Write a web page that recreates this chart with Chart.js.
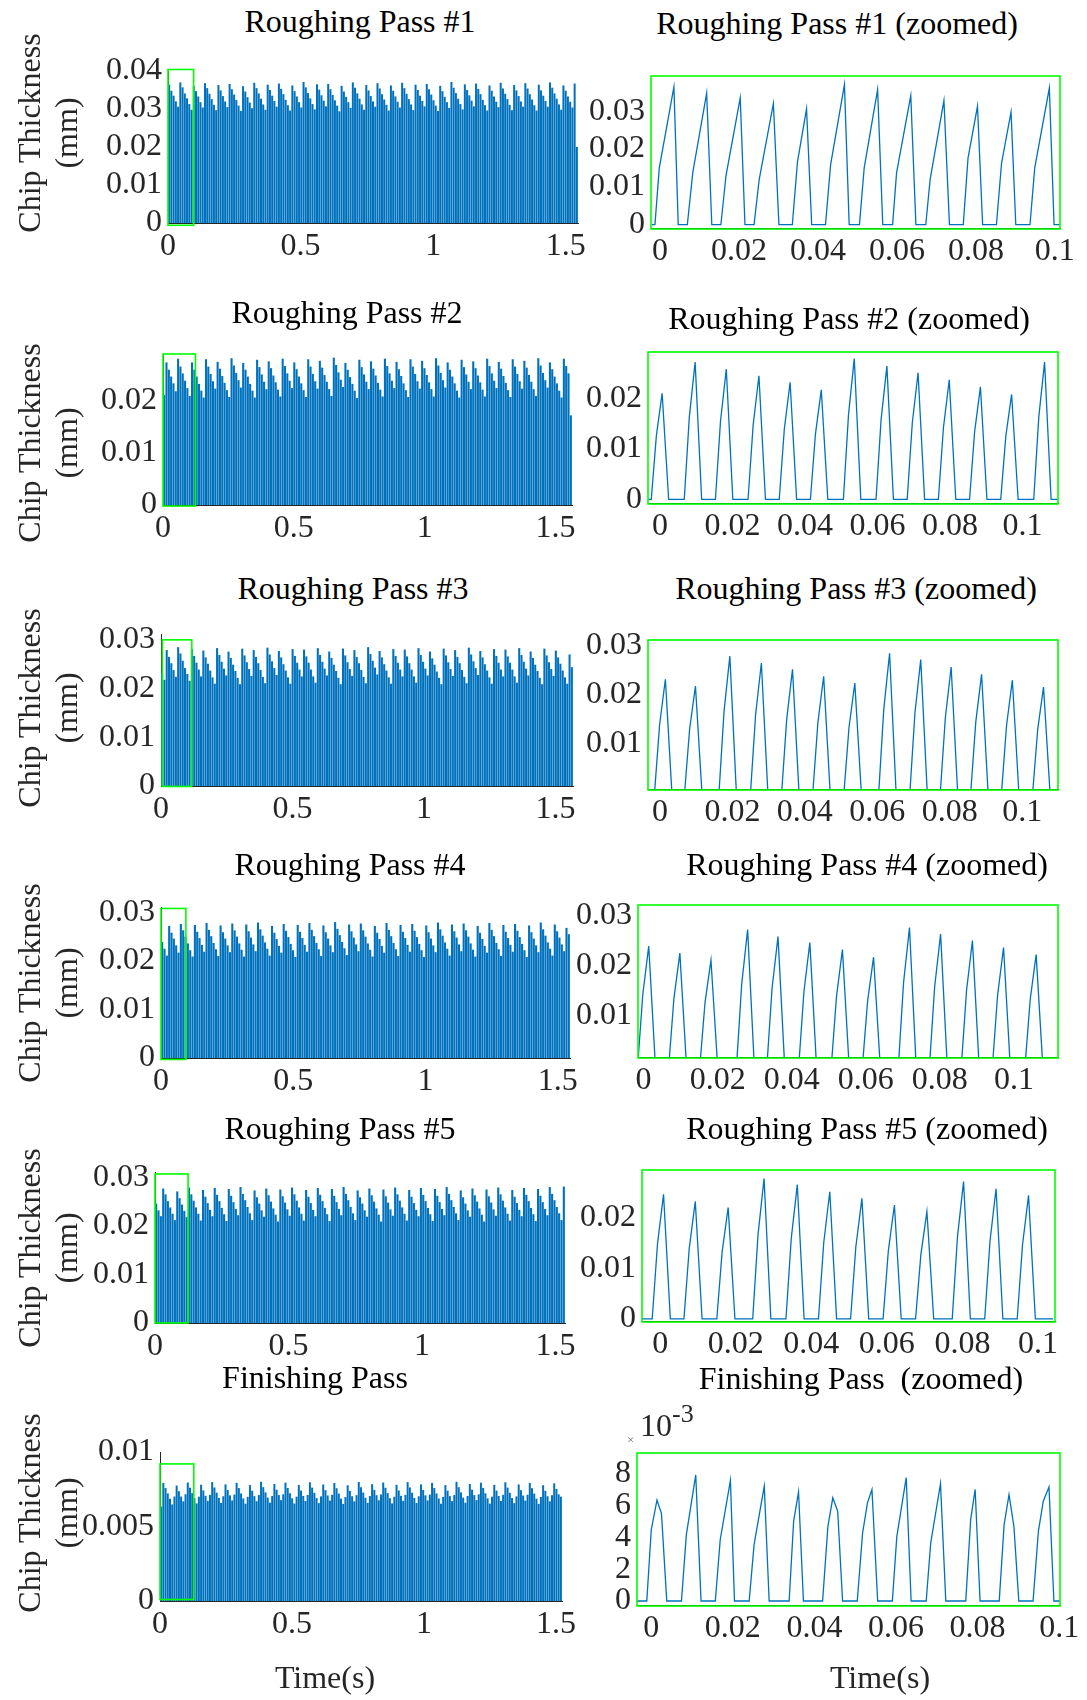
<!DOCTYPE html>
<html>
<head>
<meta charset="utf-8">
<script src="https://cdn.jsdelivr.net/npm/chart.js@4.4.1/dist/chart.umd.min.js"></script>
<style>
  html, body { margin: 0; padding: 0; background: #fff; }
  #fig { position: relative; width: 1087px; height: 1700px; overflow: hidden;
         font-family: 'Liberation Serif', 'Times New Roman', serif; }
  #fig canvas { position: absolute; }
  .ttl { position: absolute; font-size: 32px; line-height: 1; white-space: pre; color: #000;
         transform: translate(-50%, -50%); }
  .ylab { position: absolute; font-size: 32px; line-height: 37px; text-align: center; white-space: pre;
          color: #262626; transform: translate(-50%, -50%) rotate(-90deg); }
  .xlab { position: absolute; font-size: 32px; line-height: 1; color: #262626; transform: translate(-50%, -50%); }
</style>
</head>
<body>
<div id="fig"></div>
<script>
// ---- tick labels ----
const xTicksFull = [0, 0.5, 1, 1.5];
const xTicksZoom = [0, 0.02, 0.04, 0.06, 0.08, 0.1];
const yTicksP1 = [0, 0.01, 0.02, 0.03, 0.04];
const yTicksP2 = [0, 0.01, 0.02];
const yTicksP3 = [0, 0.01, 0.02, 0.03];
const yTicksP4 = [0, 0.01, 0.02, 0.03];
const yTicksP5 = [0, 0.01, 0.02, 0.03];
const yTicksFin = [0, 0.005, 0.01];
const yTicksZ1 = [0, 0.01, 0.02, 0.03];
const yTicksZ2 = [0, 0.01, 0.02];
const yTicksZ3 = [0.01, 0.02, 0.03];
const yTicksZ4 = [0.01, 0.02, 0.03];
const yTicksZ5 = [0, 0.01, 0.02];
const yTicksZFin = [0, 0.002, 0.004, 0.006, 0.008];

// ---- peak chip thickness of every tooth pass over the whole cut (mm) ----
const pass1Peaks = [
  0.0364,0.0348,0.0335,0.0320,0.0306, 0.0370,0.0357,0.0341,0.0328,0.0313,0.0298,
  0.0361,0.0347,0.0333,0.0318,0.0304, 0.0368,0.0355,0.0340,0.0326,0.0311,0.0297,
  0.0363,0.0349,0.0334,0.0320,0.0305, 0.0366,0.0352,0.0338,0.0324,0.0309,0.0295,
  0.0360,0.0346,0.0331,0.0317,0.0302, 0.0369,0.0355,0.0341,0.0327,0.0312,0.0298,
  0.0364,0.0350,0.0335,0.0321,0.0306, 0.0367,0.0353,0.0339,0.0324,0.0310,0.0296,
  0.0362,0.0347,0.0333,0.0318,0.0304, 0.0371,0.0357,0.0342,0.0328,0.0313,0.0299,
  0.0365,0.0351,0.0336,0.0322,0.0307, 0.0366,0.0352,0.0337,0.0323,0.0309,0.0294,
  0.0361,0.0346,0.0332,0.0318,0.0303, 0.0370,0.0356,0.0341,0.0327,0.0312,0.0298,
  0.0363,0.0349,0.0334,0.0320,0.0306, 0.0368,0.0354,0.0339,0.0325,0.0311,0.0296,
  0.0362,0.0348,0.0333,0.0319,0.0304, 0.0369,0.0355,0.0340,0.0326,0.0312,0.0297,
  0.0364,0.0350,0.0335,0.0321,0.0307, 0.0366,0.0352,0.0338,0.0323,0.0309,0.0295,
  0.0361,0.0347,0.0332,0.0318,0.0303, 0.0371,0.0356,0.0342,0.0327,0.0313,0.0299,
  0.0365,0.0350,0.0336,0.0322,0.0307, 0.0367,0.0353,0.0339,0.0324,0.0310,0.0296,
  0.0362,0.0348,0.0333,0.0319,0.0305, 0.0369,0.0354,0.0340,0.0326,0.0311,0.0297,
  0.0363,0.0349,0.0334,0.0320,0.0306, 0.0368,0.0354,0.0339,0.0325,0.0310,0.0296,
  0.0364,0.0349,0.0335,0.0321,0.0306, 0.0370,0.0356,0.0341,0.0327,0.0312,0.0298,
  0.0362,0.0348,0.0333,0.0319,0.0304, 0.0367,0.0200
];
const pass2Peaks = [
  0.0210, 0.0272,0.0258,0.0245,0.0232,0.0217,
  0.0279,0.0264,0.0251,0.0237,0.0223,0.0208, 0.0272,0.0258,0.0245,0.0231,0.0218,0.0205,
  0.0278,0.0264,0.0250,0.0236,0.0222, 0.0273,0.0260,0.0246,0.0233,0.0219,0.0206,
  0.0280,0.0266,0.0252,0.0238,0.0224, 0.0271,0.0258,0.0245,0.0231,0.0218,0.0205,
  0.0277,0.0263,0.0249,0.0235,0.0221, 0.0274,0.0261,0.0247,0.0234,0.0220,0.0207,
  0.0279,0.0265,0.0251,0.0237,0.0223, 0.0272,0.0259,0.0245,0.0232,0.0219,0.0206,
  0.0278,0.0264,0.0250,0.0236,0.0222, 0.0275,0.0262,0.0248,0.0235,0.0221,0.0208,
  0.0281,0.0267,0.0253,0.0239,0.0225, 0.0271,0.0258,0.0244,0.0231,0.0218,0.0204,
  0.0277,0.0263,0.0249,0.0235,0.0221, 0.0274,0.0260,0.0247,0.0233,0.0220,0.0207,
  0.0279,0.0265,0.0251,0.0237,0.0223, 0.0273,0.0259,0.0246,0.0232,0.0219,0.0206,
  0.0278,0.0264,0.0250,0.0236,0.0222, 0.0275,0.0261,0.0248,0.0234,0.0221,0.0207,
  0.0280,0.0266,0.0252,0.0238,0.0224, 0.0272,0.0258,0.0245,0.0232,0.0218,0.0205,
  0.0277,0.0263,0.0249,0.0235,0.0221, 0.0274,0.0261,0.0247,0.0234,0.0220,0.0207,
  0.0279,0.0265,0.0251,0.0237,0.0223, 0.0273,0.0260,0.0246,0.0233,0.0219,0.0206,
  0.0278,0.0264,0.0250,0.0236,0.0222, 0.0275,0.0262,0.0248,0.0235,0.0221,0.0208,
  0.0280,0.0266,0.0252,0.0238,0.0224, 0.0272,0.0259,0.0245,0.0232,0.0218,0.0205,
  0.0279,0.0265,0.0251,0.0171
];
const pass3Peaks = [
  0.0232,0.0218, 0.0279,0.0265,0.0252,0.0238,0.0224, 0.0285,0.0272,0.0257,0.0242,0.0230,0.0216,
  0.0281,0.0267,0.0253,0.0239,0.0225, 0.0278,0.0264,0.0251,0.0237,0.0223,0.0210,
  0.0283,0.0269,0.0255,0.0241,0.0227, 0.0276,0.0263,0.0249,0.0236,0.0222,0.0209,
  0.0282,0.0268,0.0254,0.0240,0.0226, 0.0279,0.0265,0.0252,0.0238,0.0224,0.0211,
  0.0284,0.0270,0.0256,0.0242,0.0228, 0.0277,0.0264,0.0250,0.0237,0.0223,0.0210,
  0.0281,0.0267,0.0253,0.0239,0.0225, 0.0280,0.0266,0.0253,0.0239,0.0225,0.0212,
  0.0283,0.0269,0.0255,0.0241,0.0227, 0.0276,0.0263,0.0249,0.0236,0.0222,0.0209,
  0.0282,0.0268,0.0254,0.0240,0.0226, 0.0279,0.0265,0.0252,0.0238,0.0224,0.0211,
  0.0285,0.0271,0.0257,0.0243,0.0229, 0.0277,0.0264,0.0250,0.0237,0.0223,0.0210,
  0.0281,0.0267,0.0253,0.0239,0.0225, 0.0280,0.0266,0.0252,0.0239,0.0225,0.0212,
  0.0283,0.0269,0.0255,0.0241,0.0227, 0.0276,0.0262,0.0249,0.0235,0.0222,0.0209,
  0.0282,0.0268,0.0254,0.0240,0.0226, 0.0279,0.0265,0.0252,0.0238,0.0224,0.0211,
  0.0284,0.0270,0.0256,0.0242,0.0228, 0.0277,0.0264,0.0250,0.0237,0.0223,0.0210,
  0.0281,0.0267,0.0253,0.0239,0.0225, 0.0280,0.0266,0.0253,0.0239,0.0225,0.0212,
  0.0283,0.0269,0.0255,0.0241,0.0227, 0.0276,0.0263,0.0249,0.0236,0.0222,0.0209,
  0.0282,0.0268,0.0254,0.0240,0.0226, 0.0278,0.0264,0.0251,0.0237,0.0223,0.0210,
  0.0270,0.0244
];
const pass4Peaks = [
  0.0239,0.0225,0.0211, 0.0272,0.0258,0.0246,0.0232,0.0217, 0.0276,0.0263,0.0250,0.0236,0.0222,0.0209,
  0.0274,0.0260,0.0247,0.0233,0.0219, 0.0278,0.0264,0.0251,0.0237,0.0224,0.0210,
  0.0273,0.0259,0.0246,0.0232,0.0218, 0.0277,0.0263,0.0250,0.0236,0.0223,0.0209,
  0.0275,0.0261,0.0248,0.0234,0.0220, 0.0279,0.0265,0.0252,0.0238,0.0225,0.0211,
  0.0272,0.0258,0.0245,0.0231,0.0217, 0.0276,0.0262,0.0249,0.0235,0.0222,0.0208,
  0.0274,0.0260,0.0247,0.0233,0.0219, 0.0278,0.0264,0.0251,0.0237,0.0224,0.0210,
  0.0273,0.0259,0.0246,0.0232,0.0218, 0.0280,0.0266,0.0253,0.0239,0.0226,0.0212,
  0.0275,0.0261,0.0248,0.0234,0.0220, 0.0277,0.0263,0.0250,0.0236,0.0223,0.0209,
  0.0272,0.0258,0.0245,0.0231,0.0217, 0.0278,0.0264,0.0251,0.0237,0.0224,0.0210,
  0.0274,0.0260,0.0247,0.0233,0.0219, 0.0276,0.0262,0.0249,0.0235,0.0222,0.0208,
  0.0273,0.0259,0.0246,0.0232,0.0218, 0.0279,0.0265,0.0252,0.0238,0.0225,0.0211,
  0.0275,0.0261,0.0248,0.0234,0.0220, 0.0277,0.0263,0.0250,0.0236,0.0223,0.0209,
  0.0272,0.0258,0.0245,0.0231,0.0217, 0.0278,0.0264,0.0251,0.0237,0.0224,0.0210,
  0.0274,0.0260,0.0247,0.0233,0.0219, 0.0276,0.0262,0.0249,0.0235,0.0222,0.0208,
  0.0273,0.0259,0.0246,0.0232,0.0218, 0.0279,0.0265,0.0252,0.0238,0.0225,0.0211,
  0.0275,0.0261,0.0248,0.0234,0.0220, 0.0268,0.0255
];
const pass5Peaks = [
  0.0246,0.0232,0.0220, 0.0277,0.0265,0.0251,0.0238,0.0225,0.0212, 0.0271,0.0257,0.0244,0.0231,0.0218,
  0.0279,0.0265,0.0252,0.0238,0.0225,0.0211, 0.0274,0.0260,0.0247,0.0233,0.0220,
  0.0278,0.0264,0.0251,0.0237,0.0224,0.0210, 0.0276,0.0262,0.0249,0.0235,0.0222,
  0.0280,0.0266,0.0253,0.0239,0.0226,0.0212, 0.0273,0.0259,0.0246,0.0232,0.0219,
  0.0277,0.0263,0.0250,0.0236,0.0223,0.0209, 0.0275,0.0261,0.0248,0.0234,0.0221,
  0.0279,0.0265,0.0252,0.0238,0.0225,0.0211, 0.0274,0.0260,0.0247,0.0233,0.0220,
  0.0278,0.0264,0.0251,0.0237,0.0224,0.0210, 0.0276,0.0262,0.0249,0.0235,0.0222,
  0.0280,0.0266,0.0253,0.0239,0.0226,0.0212, 0.0273,0.0259,0.0246,0.0232,0.0219,
  0.0277,0.0263,0.0250,0.0236,0.0223,0.0209, 0.0275,0.0261,0.0248,0.0234,0.0221,
  0.0279,0.0265,0.0252,0.0238,0.0225,0.0211, 0.0274,0.0260,0.0247,0.0233,0.0220,
  0.0278,0.0264,0.0251,0.0237,0.0224,0.0210, 0.0276,0.0262,0.0249,0.0235,0.0222,
  0.0280,0.0266,0.0253,0.0239,0.0226,0.0212, 0.0273,0.0259,0.0246,0.0232,0.0219,
  0.0277,0.0263,0.0250,0.0236,0.0223,0.0209, 0.0275,0.0261,0.0248,0.0234,0.0221,
  0.0279,0.0265,0.0252,0.0238,0.0225,0.0211, 0.0274,0.0260,0.0247,0.0233,0.0220,
  0.0278,0.0264,0.0251,0.0237,0.0224,0.0210, 0.0276,0.0262,0.0249,0.0235,0.0222,
  0.0280,0.0266,0.0253,0.0239,0.0226,0.0212, 0.0281
];
const finishPeaks = [
  0.00634,0.00792,0.00758,0.00722,0.00686,0.00648,0.00701, 0.00775,0.00737,0.00701,0.00669,0.00716,
  0.00795,0.00760,0.00724,0.00690,0.00655,0.00700, 0.00780,0.00742,0.00706,0.00672,0.00712,
  0.00798,0.00762,0.00727,0.00692,0.00658,0.00703, 0.00783,0.00745,0.00709,0.00675,0.00714,
  0.00793,0.00758,0.00722,0.00688,0.00653,0.00699, 0.00778,0.00740,0.00704,0.00670,0.00711,
  0.00800,0.00764,0.00729,0.00694,0.00660,0.00705, 0.00785,0.00747,0.00711,0.00677,0.00716,
  0.00794,0.00759,0.00723,0.00689,0.00654,0.00700, 0.00779,0.00741,0.00705,0.00671,0.00712,
  0.00797,0.00761,0.00726,0.00691,0.00657,0.00702, 0.00782,0.00744,0.00708,0.00674,0.00713,
  0.00792,0.00757,0.00721,0.00687,0.00652,0.00698, 0.00777,0.00739,0.00703,0.00669,0.00710,
  0.00799,0.00763,0.00728,0.00693,0.00659,0.00704, 0.00784,0.00746,0.00710,0.00676,0.00715,
  0.00795,0.00760,0.00724,0.00690,0.00655,0.00700, 0.00780,0.00742,0.00706,0.00672,0.00712,
  0.00798,0.00762,0.00727,0.00692,0.00658,0.00703, 0.00783,0.00745,0.00709,0.00675,0.00714,
  0.00793,0.00758,0.00722,0.00688,0.00653,0.00699, 0.00778,0.00740,0.00704,0.00670,0.00711,
  0.00800,0.00764,0.00729,0.00694,0.00660,0.00705, 0.00785,0.00747,0.00711,0.00677,0.00716,
  0.00794,0.00759,0.00723,0.00689,0.00654,0.00700, 0.00779,0.00741,0.00705,0.00671,0.00712,
  0.00797,0.00761,0.00726,0.00691,0.00657,0.00702, 0.00782,0.00744,0.00708,0.00674,0.00713,
  0.00792,0.00757,0.00721,0.00687,0.00652,0.00698, 0.00777,0.00739,0.00703,0.00669,0.00710,
  0.00790,0.00752,0.00716,0.00700
];

// ---- zoomed traces: time (s) and chip thickness (mm) ----
const zoom1T = [-0.0021,-0.0013,-0.0002,0.0035,0.0046,0.0069, 0.0083,0.0118,0.0131,0.0154,
  0.0167,0.0203,0.0215,0.0238, 0.0251,0.0287,0.0301,0.0335, 0.0348,0.0371,0.0384,0.0419,
  0.0432,0.0467,0.0479,0.0505, 0.0517,0.0551,0.0564,0.0589, 0.0599,0.0635,0.0648,0.0673,
  0.0684,0.0719,0.0733,0.0768, 0.0780,0.0804,0.0817,0.0852, 0.0865,0.0889,0.0901,0.0937,
  0.0949,0.0986,0.0998,0.1013];
const zoom1H = [0,0,0.0150,0.0364,0,0, 0.0139,0.0348,0,0, 0.0130,0.0335,0,0, 0.0119,0.0320,0,0,
  0.0166,0.0306,0,0, 0.0159,0.0370,0,0, 0.0150,0.0357,0,0, 0.0137,0.0341,0,0,
  0.0119,0.0328,0,0, 0.0176,0.0313,0,0, 0.0163,0.0298,0,0, 0.0150,0.0361,0,0];

const zoom2T = [-0.0033, -0.0024,-0.0010,0.0006,0.0024, 0.0067,0.0081,0.0097,0.0115,
  0.0153,0.0167,0.0183,0.0201, 0.0243,0.0257,0.0273,0.0291, 0.0329,0.0343,0.0359,0.0377,
  0.0415,0.0429,0.0445,0.0463, 0.0506,0.0520,0.0536,0.0554, 0.0596,0.0610,0.0626,0.0644,
  0.0682,0.0696,0.0712,0.0730, 0.0768,0.0782,0.0798,0.0816, 0.0854,0.0868,0.0884,0.0902,
  0.0940,0.0954,0.0970,0.0988, 0.1031,0.1045,0.1061,0.1079, 0.1098];
const zoom2H = [0, 0,0.0126,0.0210,0, 0,0.0163,0.0272,0, 0,0.0155,0.0258,0, 0,0.0147,0.0245,0,
  0,0.0139,0.0232,0, 0,0.0130,0.0217,0, 0,0.0167,0.0279,0, 0,0.0158,0.0264,0,
  0,0.0151,0.0251,0, 0,0.0142,0.0237,0, 0,0.0134,0.0223,0, 0,0.0125,0.0208,0,
  0,0.0163,0.0272,0, 0];

const zoom3T = [-0.0033, -0.0015,-0.0001,0.0015,0.0033, 0.0068,0.0082,0.0098,0.0116,
  0.0163,0.0177,0.0193,0.0211, 0.0250,0.0264,0.0280,0.0298, 0.0336,0.0350,0.0366,0.0384,
  0.0422,0.0436,0.0452,0.0470, 0.0508,0.0522,0.0538,0.0556, 0.0604,0.0618,0.0634,0.0652,
  0.0690,0.0704,0.0720,0.0738, 0.0774,0.0788,0.0804,0.0822, 0.0858,0.0872,0.0888,0.0906,
  0.0943,0.0957,0.0973,0.0991, 0.1029,0.1043,0.1059,0.1077, 0.1099];
const zoom3H = [0, 0,0.0139,0.0232,0, 0,0.0131,0.0218,0, 0,0.0167,0.0279,0, 0,0.0159,0.0265,0,
  0,0.0151,0.0252,0, 0,0.0143,0.0238,0, 0,0.0134,0.0224,0, 0,0.0171,0.0285,0,
  0,0.0163,0.0272,0, 0,0.0154,0.0257,0, 0,0.0145,0.0242,0, 0,0.0138,0.0230,0,
  0,0.0130,0.0216,0, 0];

const zoom4T = [-0.0016,-0.0002,0.0014,0.0032, 0.0068,0.0082,0.0098,0.0116, 0.0152,0.0166,0.0182,0.0200,
  0.0251,0.0265,0.0281,0.0299, 0.0333,0.0347,0.0363,0.0381, 0.0419,0.0433,0.0449,0.0467,
  0.0507,0.0521,0.0537,0.0555, 0.0591,0.0605,0.0621,0.0639, 0.0688,0.0702,0.0718,0.0736,
  0.0772,0.0786,0.0802,0.0820, 0.0858,0.0872,0.0888,0.0906, 0.0942,0.0956,0.0972,0.0990,
  0.1030,0.1044,0.1060,0.1078];
const zoom4H = [0,0.0143,0.0239,0, 0,0.0135,0.0225,0, 0,0.0127,0.0211,0, 0,0.0163,0.0272,0,
  0,0.0155,0.0258,0, 0,0.0148,0.0246,0, 0,0.0139,0.0232,0, 0,0.0130,0.0217,0,
  0,0.0166,0.0276,0, 0,0.0158,0.0263,0, 0,0.0150,0.0250,0, 0,0.0142,0.0236,0,
  0,0.0133,0.0222,0];

const zoom5T = [-0.0048, -0.0021,-0.0007,0.0009,0.0027, 0.0063,0.0077,0.0093,0.0111,
  0.0150,0.0164,0.0180,0.0198, 0.0245,0.0259,0.0275,0.0293, 0.0333,0.0347,0.0363,0.0381,
  0.0419,0.0433,0.0449,0.0467, 0.0504,0.0518,0.0534,0.0552, 0.0590,0.0604,0.0620,0.0638,
  0.0676,0.0690,0.0706,0.0724, 0.0773,0.0787,0.0803,0.0821, 0.0859,0.0873,0.0889,0.0907,
  0.0945,0.0959,0.0975,0.0993, 0.1040];
const zoom5H = [0, 0,0.0148,0.0246,0, 0,0.0139,0.0232,0, 0,0.0132,0.0220,0, 0,0.0166,0.0277,0,
  0,0.0159,0.0265,0, 0,0.0151,0.0251,0, 0,0.0143,0.0238,0, 0,0.0135,0.0225,0,
  0,0.0127,0.0212,0, 0,0.0163,0.0271,0, 0,0.0154,0.0257,0, 0,0.0146,0.0244,0, 0];

const zoomFinT = [-0.0035,-0.0011, 0.0000,0.0014,0.0025,0.0038, 0.0074,0.0086,0.0109,0.0122,
  0.0157,0.0169,0.0194,0.0204, 0.0240,0.0252,0.0277,0.0289, 0.0338,0.0349,0.0361,0.0373,
  0.0420,0.0433,0.0445,0.0457,0.0469, 0.0505,0.0518,0.0530,0.0541,0.0555,
  0.0591,0.0602,0.0625,0.0637, 0.0674,0.0685,0.0709,0.0722, 0.0771,0.0783,0.0794,0.0806,
  0.0853,0.0865,0.0877,0.0889,0.0901, 0.0936,0.0949,0.0961,0.0975,0.0987, 0.1014];
const zoomFinH = [0,0, 0.00448,0.00634,0.00549,0, 0,0.00417,0.00792,0, 0,0.00385,0.00758,0,
  0,0.00354,0.00722,0, 0,0.00501,0.00686,0, 0,0.00469,0.00648,0.00564,0,
  0,0.00427,0.00617,0.00701,0, 0,0.00406,0.00775,0, 0,0.00364,0.00737,0,
  0,0.00512,0.00701,0, 0,0.00480,0.00669,0.00469,0, 0,0.00438,0.00627,0.00716,0, 0];

// zoom window drawn on the full traces: [t0, t1, h0, h1]
const win1 = [0, 0.0966, -0.0006, 0.0404];
const win2 = [0, 0.124, -0.0002, 0.0288];
const win3 = [0.005, 0.117, -0.0001, 0.0300];
const win4 = [0, 0.094, -0.0003, 0.0308];
const win5 = [0, 0.124, 0, 0.0307];
const winFin = [0, 0.128, 0.0001, 0.0092];

// ---- layout & style ----
const FONT = "'Liberation Serif', 'Times New Roman', serif";
const BLUE = '#0072BD';
const GREEN = '#00ff00';
const AXIS = '#262626';
const YW = 130, PT = 26, PR = 36, XH = 60;
const fig = document.getElementById('fig');

const fullPanels = [
  { peaks: pass1Peaks, win: win1, area: [168, 71, 578, 223], xMax: 1.546, yMax: 0.04, yTicks: yTicksP1 },
  { peaks: pass2Peaks, win: win2, area: [163, 354, 572, 505], xMax: 1.563, yMax: 0.0288, yTicks: yTicksP2 },
  { peaks: pass3Peaks, win: win3, area: [161, 634, 573, 786], xMax: 1.567, yMax: 0.0312, yTicks: yTicksP3 },
  { peaks: pass4Peaks, win: win4, area: [161, 907, 570, 1058], xMax: 1.546, yMax: 0.0311, yTicks: yTicksP4 },
  { peaks: pass5Peaks, win: win5, area: [155, 1172, 565, 1323], xMax: 1.536, yMax: 0.0311, yTicks: yTicksP5 },
  { peaks: finishPeaks, win: winFin, area: [160, 1452, 562, 1601], xMax: 1.523, yMax: 0.01, yTicks: yTicksFin }
];
const zoomPanels = [
  { t: zoom1T, h: zoom1H, area: [651, 76, 1060, 228], x: [-0.0023, 0.1013], y: [-0.00087, 0.0393], yTicks: yTicksZ1 },
  { t: zoom2T, h: zoom2H, area: [648, 352, 1058, 503], x: [-0.0033, 0.1098], y: [-0.0007, 0.0292], yTicks: yTicksZ2 },
  { t: zoom3T, h: zoom3H, area: [648, 640, 1058, 789], x: [-0.0033, 0.1099], y: [0.0008, 0.0312], yTicks: yTicksZ3 },
  { t: zoom4T, h: zoom4H, area: [638, 905, 1058, 1057], x: [-0.0015, 0.1119], y: [0.0018, 0.0321], yTicks: yTicksZ4 },
  { t: zoom5T, h: zoom5H, area: [642, 1170, 1055, 1321], x: [-0.0048, 0.1045], y: [-0.0004, 0.0294], yTicks: yTicksZ5 },
  { t: zoomFinT, h: zoomFinH, area: [637, 1453, 1060, 1605], x: [-0.0035, 0.1002], y: [-0.00025, 0.0093], yTicks: yTicksZFin, scale: 1000 }
];

const titles = [
  ['Roughing Pass #1', 360, 24], ['Roughing Pass #1 (zoomed)', 837, 26],
  ['Roughing Pass #2', 347, 315], ['Roughing Pass #2 (zoomed)', 849, 321],
  ['Roughing Pass #3', 353, 591], ['Roughing Pass #3 (zoomed)', 856, 591],
  ['Roughing Pass #4', 350, 867], ['Roughing Pass #4 (zoomed)', 867, 867],
  ['Roughing Pass #5', 340, 1131], ['Roughing Pass #5 (zoomed)', 867, 1131],
  ['Finishing Pass', 315, 1380], ['Finishing Pass  (zoomed)', 861, 1381]
];
const yLabelRows = [133, 443, 708, 983, 1248, 1513];

function fmt(v) { return String(parseFloat(v.toPrecision(6))); }

function place(area) {
  const [l, t, r, b] = area;
  const c = document.createElement('canvas');
  const w = r - l + YW + PR, h = b - t + PT + XH;
  c.width = w; c.height = h;
  c.style.left = (l - YW) + 'px'; c.style.top = (t - PT) + 'px';
  c.style.width = w + 'px'; c.style.height = h + 'px';
  fig.appendChild(c);
  return c;
}

function tickFont() { return { family: FONT, size: 32 }; }

function axisX(min, max, ticks, border) {
  return {
    type: 'linear', position: 'bottom', min, max, offset: false,
    grid: { display: false, drawTicks: false, offset: false },
    border: { display: border, color: AXIS, width: 1 },
    ticks: { font: tickFont(), color: AXIS, padding: 4, autoSkip: false, maxRotation: 0, callback: v => fmt(v) },
    afterBuildTicks: s => { s.ticks = ticks.map(v => ({ value: v })); },
    afterFit: s => { s.height = XH; }
  };
}

function axisY(min, max, ticks, border, mult) {
  return {
    type: 'linear', position: 'left', min, max,
    grid: { display: false, drawTicks: false },
    border: { display: border, color: AXIS, width: 1 },
    ticks: { font: tickFont(), color: AXIS, padding: 6, autoSkip: false, callback: v => fmt(v * (mult || 1)) },
    afterBuildTicks: s => { s.ticks = ticks.map(v => ({ value: v })); },
    afterFit: s => { s.width = YW; }
  };
}

function boxPlugin(win) {
  return {
    id: 'zoomBox',
    afterDatasetsDraw(chart) {
      const ctx = chart.ctx;
      let x0, x1, y0, y1;
      if (win) {
        const xs = chart.scales.t, ys = chart.scales.y;
        x0 = xs.getPixelForValue(win[0]); x1 = xs.getPixelForValue(win[1]);
        y0 = ys.getPixelForValue(win[3]); y1 = ys.getPixelForValue(win[2]);
      } else {
        const a = chart.chartArea;
        x0 = a.left; x1 = a.right; y0 = a.top; y1 = a.bottom + 1;
      }
      ctx.save();
      ctx.strokeStyle = GREEN;
      ctx.lineWidth = 1.6;
      ctx.strokeRect(x0, y0, x1 - x0, y1 - y0);
      ctx.restore();
    }
  };
}

const common = {
  responsive: false, animation: false, devicePixelRatio: 1,
  layout: { padding: { left: 0, top: PT, right: PR, bottom: 0 } },
  plugins: { legend: { display: false }, tooltip: { enabled: false }, title: { display: false } }
};

fullPanels.forEach(p => {
  new Chart(place(p.area), {
    type: 'bar',
    data: {
      labels: p.peaks.map((_, i) => i + 1),
      datasets: [{ data: p.peaks, backgroundColor: BLUE, borderWidth: 0, categoryPercentage: 1, barPercentage: 0.9 }]
    },
    options: Object.assign({}, common, {
      scales: {
        x: { type: 'category', display: false, offset: true },
        t: axisX(0, p.xMax, xTicksFull, true),
        y: axisY(0, p.yMax, p.yTicks, true)
      }
    }),
    plugins: [boxPlugin(p.win)]
  });
});

zoomPanels.forEach(p => {
  new Chart(place(p.area), {
    type: 'line',
    data: {
      datasets: [{
        data: p.t.map((x, i) => ({ x, y: p.h[i] })),
        borderColor: BLUE, borderWidth: 1.3, pointRadius: 0, tension: 0, fill: false
      }]
    },
    options: Object.assign({}, common, {
      scales: {
        x: axisX(p.x[0], p.x[1], xTicksZoom, true),
        y: axisY(p.y[0], p.y[1], p.yTicks, false, p.scale)
      }
    }),
    plugins: [boxPlugin(null)]
  });
});

function addText(cls, text, x, y) {
  const d = document.createElement('div');
  d.className = cls;
  d.textContent = text;
  d.style.left = x + 'px';
  d.style.top = y + 'px';
  fig.appendChild(d);
  return d;
}

titles.forEach(([s, x, y]) => addText('ttl', s, x, y - 3));
yLabelRows.forEach(y => addText('ylab', 'Chip Thickness\n(mm)', 48, y));
addText('xlab', 'Time(s)', 325, 1677);
addText('xlab', 'Time(s)', 880, 1677);

// exponent marker of the finishing zoom axis
const ex = document.createElement('div');
ex.style.cssText = 'position:absolute;left:640px;top:1409px;font-size:32px;line-height:1;color:#262626;';
ex.innerHTML = '10<span style="position:relative;top:-14px;font-size:26px;">-3</span>';
fig.appendChild(ex);
const cross = document.createElement('div');
cross.style.cssText = 'position:absolute;left:627px;top:1433px;font-size:13px;line-height:1;color:#777;';
cross.textContent = '\u00d7';
fig.appendChild(cross);
</script>
</body>
</html>
